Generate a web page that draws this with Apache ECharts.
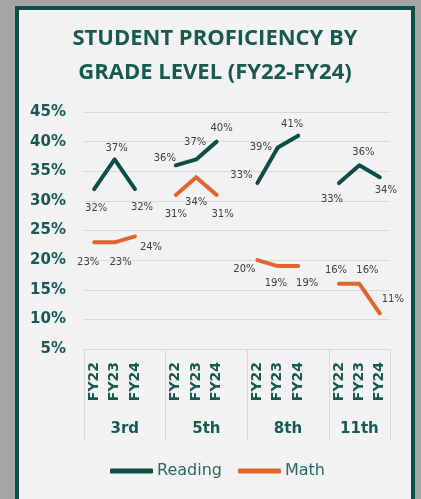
<!DOCTYPE html>
<html>
<head>
<meta charset="utf-8">
<script src="https://cdn.jsdelivr.net/npm/echarts@6/dist/echarts.min.js"></script>
<style>
  html, body { margin: 0; padding: 0; background: #a5a5a5; width: 421px; height: 499px; overflow: hidden; }
  #frame { position: absolute; left: 15px; top: 6px; width: 400px; height: 510px; box-sizing: border-box;
           border: 4px solid #0d4f47; background: #f2f2f2; }
  #chart { position: absolute; left: 0; top: 0; width: 392px; height: 489px; }
</style>
</head>
<body>
<div id="frame"><div id="chart"></div></div>
<script>
// ---- data ----
const grades = ['3rd', '5th', '8th', '11th'];
const years = ['FY22', 'FY23', 'FY24'];
const readingValues = [
  [32, 37, 32],
  [36, 37, 40],
  [33, 39, 41],
  [33, 36, 34]
];
const mathValues = [
  [23, 23, 24],
  [31, 34, 31],
  [20, 19, 19],
  [16, 16, 11]
];
const yMin = 5, yMax = 45, yStep = 5;

// ---- label placement (style, not data) ----
const readingLabelOffsets = [
  [[2, 19], [2, -11], [7, 18]],
  [[-11, -7], [-1, -17], [5, -13]],
  [[-16, -8], [-17, 0], [-6, -11]],
  [[-7, 16], [4, -13], [6, 13]]
];
const mathLabelOffsets = [
  [[-6, 20], [6, 20], [16, 11]],
  [[0, 19], [0, 25], [6, 19]],
  [[-13, 9], [-2, 17], [9, 17]],
  [[-3, -13], [8, -13], [13, -14]]
];

const READING_COLOR = '#0d4f47';
const MATH_COLOR = '#e2652c';
const TEXT_GREEN = '#185a50';

// ---- build category axes ----
const slot = years.length + 1; // each grade + a spacer
const fyAxis = [];
grades.forEach((g, gi) => {
  years.forEach(y => fyAxis.push(y));
  if (gi < grades.length - 1) fyAxis.push('');
});
const nCat = fyAxis.length;
const groupAxis = new Array(2 * nCat + 1).fill('');
const groupTicks = new Set();
grades.forEach((g, gi) => {
  const start = gi * slot;
  const end = Math.min(start + slot, nCat);
  groupAxis[start + end] = g;
  groupTicks.add(2 * start);
  groupTicks.add(2 * end);
});

function makeSeries(name, values, offsets, color) {
  return values.map((vals, gi) => {
    const data = new Array(nCat).fill(null);
    vals.forEach((v, yi) => {
      data[gi * slot + yi] = { value: v, label: { offset: offsets[gi][yi] } };
    });
    return {
      type: 'line',
      name: name,
      xAxisIndex: 0,
      data: data,
      connectNulls: false,
      symbol: 'circle',
      symbolSize: 1,
      showSymbol: true,
      itemStyle: { color: color },
      lineStyle: { width: 4, color: color, cap: 'round', join: 'round' },
      label: {
        show: true, position: 'inside', formatter: '{c}%',
        fontFamily: 'DejaVu Sans', fontSize: 10, color: '#404040'
      },
      emphasis: { disabled: true },
      silent: true
    };
  });
}

const chart = echarts.init(document.getElementById('chart'), null, { renderer: 'canvas' });
chart.setOption({
  animation: false,
  title: {
    text: 'STUDENT PROFICIENCY BY\nGRADE LEVEL (FY22-FY24)',
    left: 'center',
    top: 12,
    padding: 0,
    textStyle: {
      fontFamily: 'Open Sans', fontWeight: 'bold', fontSize: 22, lineHeight: 34, color: TEXT_GREEN
    }
  },
  legend: {
    data: ['Reading', 'Math'],
    left: 86,
    top: 448,
    icon: 'roundRect',
    itemWidth: 43,
    itemHeight: 5,
    itemGap: 16,
    textStyle: { fontFamily: 'DejaVu Sans', fontSize: 16, color: '#2a6a61', padding: [0, 0, 0, -1] }
  },
  grid: { left: 65, right: 21, top: 102, bottom: 150 },
  xAxis: [
    {
      type: 'category',
      data: fyAxis,
      position: 'bottom',
      boundaryGap: true,
      axisLine: { show: true, lineStyle: { color: '#d9d9d9', width: 1 } },
      axisTick: { show: false },
      axisLabel: {
        interval: 0, rotate: 90, margin: 13,
        fontFamily: 'DejaVu Sans', fontWeight: 'bold', fontSize: 14, color: TEXT_GREEN
      }
    },
    {
      type: 'category',
      data: groupAxis,
      position: 'bottom',
      offset: 0,
      boundaryGap: false,
      axisLine: { show: false },
      axisTick: {
        show: true, length: 91,
        interval: (i) => groupTicks.has(i),
        lineStyle: { color: '#d9d9d9', width: 1 }
      },
      axisLabel: {
        interval: (i, v) => v !== '',
        margin: 73,
        fontFamily: 'DejaVu Sans', fontWeight: 'bold', fontSize: 15, color: TEXT_GREEN
      }
    }
  ],
  yAxis: {
    type: 'value',
    min: yMin, max: yMax, interval: yStep,
    axisLine: { show: false },
    axisTick: { show: false },
    splitLine: { lineStyle: { color: '#d9d9d9', width: 1 } },
    axisLabel: {
      formatter: '{value}%', margin: 18,
      fontFamily: 'DejaVu Sans', fontWeight: 'bold', fontSize: 15, color: TEXT_GREEN
    }
  },
  series: [
    ...makeSeries('Reading', readingValues, readingLabelOffsets, READING_COLOR),
    ...makeSeries('Math', mathValues, mathLabelOffsets, MATH_COLOR)
  ]
});
</script>
</body>
</html>
